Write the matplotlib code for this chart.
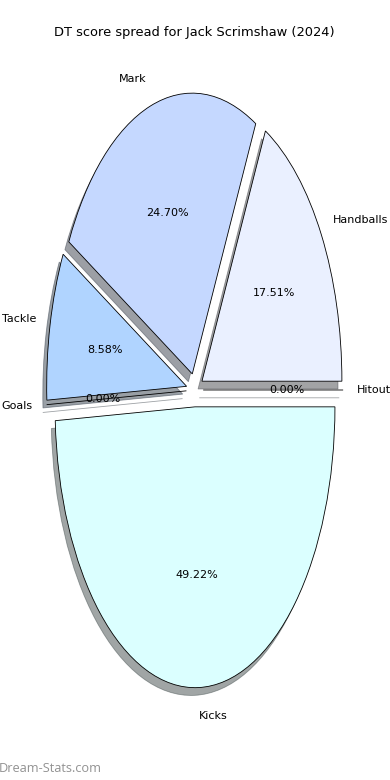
import matplotlib.pyplot as plt

# share of DT score per stat (percent)
labels = ["Handballs", "Mark", "Tackle", "Goals", "Kicks", "Hitout"]
shares = [17.51, 24.70, 8.58, 0.0, 49.22, 0.0]
colors = ["#eaf0ff", "#c5d8ff", "#b0d4ff", "#cfe8ff", "#dbffff", "#e0ecff"]
explode = [0.06] * len(labels)

TITLE = "DT score spread for Jack Scrimshaw (2024)"
WATERMARK = "Dream-Stats.com"


def main() -> None:
    fig = plt.figure(figsize=(3.9, 7.8), dpi=100)
    ax = fig.add_axes([0.051, 0.05, 0.897, 0.9])

    ax.pie(
        shares,
        labels=labels,
        colors=colors,
        explode=explode,
        autopct="%1.2f%%",
        shadow=True,
        startangle=0,
        wedgeprops={"edgecolor": "black", "linewidth": 0.6},
        textprops={"fontsize": 8},
    )
    ax.set_aspect("auto")
    ax.set_xlim(-1.25, 1.25)
    ax.set_ylim(-1.25, 1.25)
    ax.set_title(TITLE, fontsize=9.4, pad=2.5)

    fig.text(-0.003, 0.006, WATERMARK, color="#929292", fontsize=9.2,
             family=["Open Sans", "DejaVu Sans"], ha="left", va="bottom")

    fig.savefig("out.png", dpi=100)
    plt.close(fig)


if __name__ == "__main__":
    main()
